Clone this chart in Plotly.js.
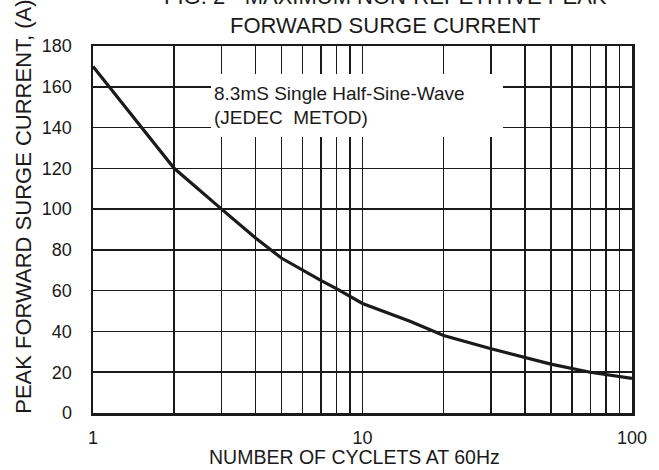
<!DOCTYPE html>
<html>
<head>
<meta charset="utf-8">
<script src="https://cdn.plot.ly/plotly-3.0.1.min.js"></script>
<style>html,body{margin:0;padding:0;background:#fff;}#chart{width:659px;height:470px;}</style>
</head>
<body>
<div id="chart"></div>
<script>
// Data
const cycles = [1, 2, 3, 4, 5, 6, 7, 8, 9, 10, 15, 20, 30, 40, 50, 70, 100];
const surgeCurrent = [170, 120, 100, 86, 76, 70, 65, 61, 57, 53.7, 45, 38, 31.5, 27.5, 24, 20, 17];
const xMajorTicks = [1, 10, 100];
const xMajorLabels = ['1', '10', '100'];
const xMinorTicks = [2, 3, 4, 5, 6, 7, 8, 9, 20, 30, 40, 50, 60, 70, 80, 90];
const yTicks = [0, 20, 40, 60, 80, 100, 120, 140, 160, 180];

const FONT = 'Liberation Sans, Arial, sans-serif';
const INK = '#1a1a1a';

const trace = {
  x: cycles, y: surgeCurrent, type: 'scatter', mode: 'lines',
  line: {color: INK, width: 3.2}, hoverinfo: 'skip'
};

const layout = {
  width: 659, height: 470,
  margin: {l: 93, r: 27, t: 46, b: 57, pad: 0},
  paper_bgcolor: '#fff', plot_bgcolor: '#fff',
  showlegend: false,
  font: {family: FONT, color: INK},
  xaxis: {
    type: 'log', range: [0, 2],
    tickmode: 'array', tickvals: xMajorTicks, ticktext: xMajorLabels,
    tickfont: {size: 18, family: FONT, color: INK},
    ticks: '', ticklabelstandoff: 7,
    showgrid: true, gridcolor: INK, gridwidth: 1.5,
    minor: {tickmode: 'array', tickvals: xMinorTicks, showgrid: true, gridcolor: INK, gridwidth: 1.5, ticks: ''},
    showline: true, mirror: true, linecolor: INK, linewidth: 2.5,
    zeroline: false, fixedrange: true
  },
  yaxis: {
    range: [0, 180],
    tickmode: 'array', tickvals: yTicks,
    tickfont: {size: 18, family: FONT, color: INK},
    ticks: '', ticklabelstandoff: 15,
    showgrid: true, gridcolor: INK, gridwidth: 1.5,
    showline: true, mirror: true, linecolor: INK, linewidth: 2.5,
    zeroline: false, fixedrange: true
  },
  annotations: [
    {
      text: 'FIG. 2 - MAXIMUM NON-REPETITIVE PEAK<br>FORWARD SURGE CURRENT',
      xref: 'paper', yref: 'paper', x: 0.5427, y: 1.096,
      xanchor: 'center', yanchor: 'middle', showarrow: false,
      font: {size: 22, family: FONT, color: INK}
    },
    {
      text: 'NUMBER OF CYCLETS AT 60Hz',
      xref: 'paper', yref: 'paper', x: 0.4855, y: -0.121,
      xanchor: 'center', yanchor: 'middle', showarrow: false,
      font: {size: 19.5, family: FONT, color: INK}
    },
    {
      text: 'PEAK FORWARD SURGE CURRENT, (A)',
      xref: 'paper', yref: 'paper', x: -0.128, y: 0.562,
      xanchor: 'center', yanchor: 'middle', showarrow: false, textangle: -90,
      font: {size: 22, family: FONT, color: INK}
    },
    {
      text: '8.3mS Single Half-Sine-Wave<br>(JEDEC  METOD)',
      xref: 'paper', yref: 'paper', x: 0.219, y: 0.9256,
      xanchor: 'left', yanchor: 'top', showarrow: false, yshift: -1,
      align: 'left', valign: 'middle', width: 286, height: 57, borderpad: 3,
      bgcolor: '#fff', borderwidth: 0,
      font: {size: 19, family: FONT, color: INK}
    }
  ]
};

Plotly.newPlot('chart', [trace], layout, {displayModeBar: false, staticPlot: true});
</script>
</body>
</html>
